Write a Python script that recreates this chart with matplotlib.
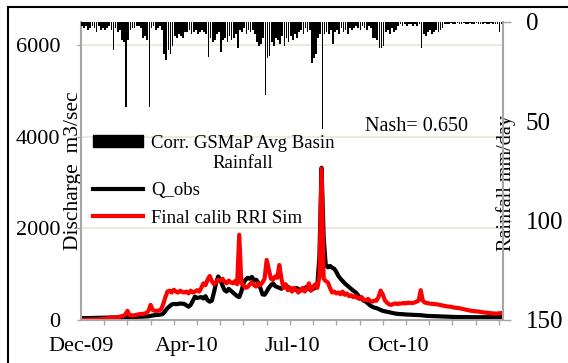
import numpy as np
import pandas as pd
import matplotlib
matplotlib.use("Agg")
import matplotlib.pyplot as plt
import matplotlib.dates as mdates
from matplotlib.patches import Patch, Rectangle
from matplotlib.lines import Line2D
from matplotlib.legend_handler import HandlerPatch

plt.rcParams['font.family'] = ['Liberation Serif', 'DejaVu Serif']

# 2-day steps starting 25 Dec 2009
dates = pd.date_range('2009-12-25', periods=200, freq='2D')

# basin rainfall (mm/day), hanging from the top
rain = [2, 3, 2, 4, 3, 2, 3, 5, 2, 4,
        3, 4, 3, 2, 4, 14, 3, 5, 4, 9,
        10, 42.6, 9, 4, 3, 3, 2, 2, 3, 8,
        7, 9, 42.6, 3, 2, 4, 3, 2, 4, 16,
        19, 14, 16, 12, 7, 8, 6, 7, 8, 5,
        5, 4, 6, 5, 4, 6, 5, 4, 5, 6,
        17.5, 8, 10, 9, 6, 5, 15, 9, 8, 10,
        7, 9, 8, 6, 13, 4, 5, 3, 6, 4,
        5, 4, 6, 10, 12, 11, 8, 36.7, 18, 17,
        10, 12, 8, 9, 11, 7, 12, 8, 10, 7,
        9, 6, 8, 5, 4, 6, 3, 5, 4, 20.7,
        18, 16, 8, 6, 54, 6, 5, 6, 4, 11,
        5, 4, 6, 3, 5, 4, 6, 3, 4, 3,
        2, 3, 4, 2, 3, 4, 2, 3, 8, 8,
        9, 13, 13, 12, 5, 4, 6, 3, 5, 4,
        2, 1, 2, 1, 2, 1, 1, 2, 1, 2,
        1, 13, 6, 7, 5, 4, 6, 5, 4, 5,
        4, 3, 1, 1, 1, 0.5, 1, 1, 0.5, 1,
        1, 0.5, 1, 1, 0.5, 1, 1, 0.5, 1, 1,
        1, 0.5, 1, 1, 0.5, 1, 1, 1, 5, 1]

# observed discharge (m3/sec)
q_obs = [40, 40, 42, 42, 44, 44, 45, 45, 46, 46,
         48, 48, 50, 50, 52, 52, 54, 55, 56, 58,
         60, 62, 62, 64, 66, 66, 68, 70, 70, 72,
         74, 76, 80, 90, 100, 105, 110, 115, 120, 140,
         200, 260, 300, 340, 350, 345, 350, 360, 355, 350,
         320, 290, 330, 420, 510, 480, 490, 500, 470, 520,
         430, 400, 420, 600, 800, 950, 880, 760, 650, 620,
         680, 640, 600, 560, 520, 500, 620, 800, 880, 920,
         900, 940, 860, 880, 820, 700, 560, 550, 620, 700,
         760, 800, 740, 720, 700, 680, 740, 760, 720, 700,
         680, 660, 700, 680, 640, 660, 700, 720, 680, 650,
         680, 700, 760, 1400, 3320, 1800, 1200, 1150, 1180, 1140,
         1120, 1050, 960, 900, 850, 800, 760, 720, 680, 640,
         610, 560, 500, 460, 420, 400, 360, 320, 290, 270,
         260, 240, 220, 200, 190, 180, 170, 160, 150, 140,
         135, 130, 128, 125, 120, 118, 115, 112, 110, 108,
         110, 105, 100, 95, 90, 88, 85, 82, 80, 78,
         76, 74, 72, 70, 70, 68, 68, 66, 66, 65,
         64, 64, 63, 62, 62, 62, 61, 60, 60, 60,
         60, 60, 60, 62, 62, 62, 64, 64, 66, 68]

# final calibrated RRI simulation (m3/sec)
q_sim = [5, 5, 5, 8, 8, 10, 10, 12, 15, 15,
         20, 25, 30, 40, 60, 45, 50, 60, 70, 80,
         90, 120, 200, 110, 100, 100, 110, 120, 130, 130,
         140, 150, 200, 330, 220, 200, 200, 210, 230, 350,
         500, 620, 640, 600, 660, 620, 600, 640, 610, 600,
         620, 580, 640, 600, 620, 650, 620, 700, 800, 760,
         880, 960, 850, 780, 820, 880, 860, 900, 840, 800,
         860, 820, 800, 850, 780, 1860, 800, 760, 700, 720,
         780, 820, 760, 730, 800, 760, 820, 900, 1310, 1100,
         900, 880, 950, 920, 1200, 900, 700, 780, 650, 700,
         620, 700, 660, 600, 640, 700, 620, 680, 800, 640,
         720, 780, 700, 950, 3300, 900, 850, 820, 700, 600,
         620, 580, 600, 560, 620, 550, 580, 520, 540, 500,
         520, 480, 460, 500, 440, 430, 460, 420, 400, 420,
         420, 500, 640, 560, 430, 380, 340, 330, 350, 360,
         350, 360, 360, 370, 360, 380, 370, 370, 380, 400,
         420, 650, 420, 380, 370, 360, 355, 350, 345, 340,
         330, 320, 310, 300, 295, 290, 280, 270, 265, 260,
         250, 240, 230, 220, 210, 200, 195, 190, 185, 180,
         170, 165, 160, 155, 150, 145, 140, 140, 145, 150]

q_ticks = [0, 2000, 4000, 6000]
rain_ticks = [0, 50, 100, 150]
axis_grey = '#A6A6A6'

fig = plt.figure(figsize=(5.68, 3.63), dpi=100)
ax = fig.add_axes([81 / 568, 43 / 363, 422 / 568, 298 / 363])
ax2 = ax.twinx()

ax.plot(dates, q_obs, color='black', lw=3)
ax.plot(dates, q_sim, color='red', lw=3)
ax2.bar(dates, rain, width=1.6, align='edge', color='black',
        linewidth=0, antialiased=False)

start = dates[0]
ax.set_xlim(start, start + pd.Timedelta(days=400))
ax.set_ylim(0, 6500)
ax2.set_ylim(150, 0)

ax.set_xticks([start + pd.Timedelta(days=100 * k) for k in range(4)])
ax.set_xticks([start + pd.Timedelta(days=22 * k) for k in range(19)], minor=True)
ax.xaxis.set_major_formatter(mdates.DateFormatter('%b-%y'))
ax.tick_params(axis='x', which='major', length=0, pad=12, labelsize=16)
ax.tick_params(axis='x', which='minor', length=3.6, width=1, color=axis_grey)

ax.set_yticks(q_ticks)
ax.tick_params(axis='y', length=3, width=1, color=axis_grey, pad=12, labelsize=16)
ax2.set_yticks(rain_ticks)
ax2.tick_params(axis='y', length=5.8, width=1, color=axis_grey, pad=10.5, labelsize=18)

ax.yaxis.grid(True, color='#E9E5D9', lw=1.2)
ax.set_axisbelow(True)

for s in ['top', 'right']:
    ax.spines[s].set_visible(False)
for s in ['left', 'bottom']:
    ax.spines[s].set_color(axis_grey)
    ax.spines[s].set_linewidth(1.5)
for s in ['top', 'left', 'bottom']:
    ax2.spines[s].set_visible(False)
ax2.spines['right'].set_color(axis_grey)
ax2.spines['right'].set_linewidth(1.5)

ax.set_ylabel('Discharge  m3/sec', fontsize=15.5)
ax.yaxis.set_label_coords(0.005, 0.5)
ax2.set_ylabel('Rainfall mm/day', fontsize=14.5)
ax2.yaxis.set_label_coords(0.983, 0.46)


# keep the rainfall bar level with the first line of its two-line label
def top_patch(legend, orig_handle, xdescent, ydescent, width, height, fontsize):
    return Rectangle((-xdescent, -ydescent + 0.72 * fontsize), width, 0.6 * fontsize)


handles = [Patch(color='black'),
           Line2D([], [], color='black', lw=3),
           Line2D([], [], color='red', lw=3)]
labels = ['Corr. GSMaP Avg Basin\nRainfall', 'Q_obs', 'Final calib RRI Sim']
leg = ax2.legend(handles, labels, loc='upper left', bbox_to_anchor=(0.01, 0.645),
                 frameon=False, fontsize=13.5, handlelength=2.7, handletextpad=0.4,
                 labelspacing=0.55, borderaxespad=0,
                 handler_map={Patch: HandlerPatch(patch_func=top_patch)})
leg.get_texts()[0].set_multialignment('center')

ax.text(0.917, 0.651, 'Nash= 0.650', transform=ax.transAxes,
        ha='right', va='center', fontsize=14.5)

fig.patches.append(Rectangle((8 / 568, -0.1), 1.2, 1.1 - 7 / 363, fill=False,
                             ec='black', lw=1.5, transform=fig.transFigure))

fig.savefig('out.png', dpi=100)
